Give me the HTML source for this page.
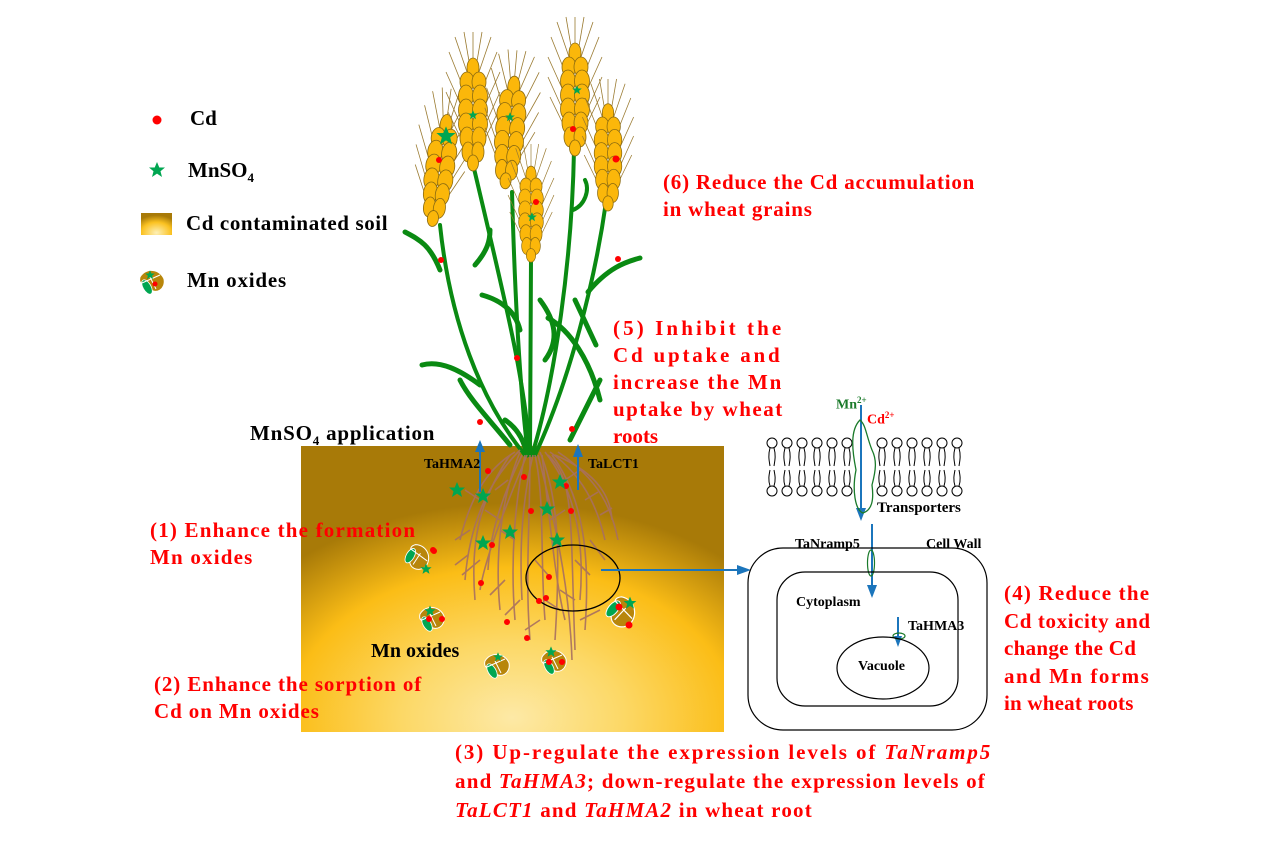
<!DOCTYPE html>
<html><head><meta charset="utf-8"><style>
html,body{margin:0;padding:0;background:#fff}
#c{position:relative;width:1274px;height:855px;overflow:hidden;font-family:"Liberation Serif",serif;font-weight:bold}
.t{position:absolute;white-space:nowrap}
.r{color:#ff0000;font-size:21px;line-height:27px}
.k{color:#000}
</style></head><body><div id="c">
<svg width="1274" height="855" style="position:absolute;left:0;top:0">
<defs>
<radialGradient id="soil" cx="0.5" cy="0.95" r="0.75">
<stop offset="0" stop-color="#fde9a6"/><stop offset="0.35" stop-color="#fcd866"/><stop offset="0.7" stop-color="#fbbd16"/><stop offset="1" stop-color="#a87a08"/>
</radialGradient>
<radialGradient id="lg" cx="0.5" cy="0.9" r="0.8">
<stop offset="0" stop-color="#fdf0b8"/><stop offset="0.6" stop-color="#fbc221"/><stop offset="1" stop-color="#a87a08"/>
</radialGradient>
<g id="ear">
<g stroke="#9a7a30" stroke-width="0.8">
<line x1="-6" y1="-40" x2="-18" y2="-75"/><line x1="6" y1="-40" x2="18" y2="-75"/>
<line x1="-8" y1="-20" x2="-24" y2="-60"/><line x1="8" y1="-20" x2="24" y2="-60"/>
<line x1="-9" y1="0" x2="-27" y2="-40"/><line x1="9" y1="0" x2="27" y2="-40"/>
<line x1="-9" y1="20" x2="-27" y2="-20"/><line x1="9" y1="20" x2="27" y2="-20"/>
<line x1="-8" y1="35" x2="-25" y2="0"/><line x1="8" y1="35" x2="25" y2="0"/>
<line x1="0" y1="-45" x2="0" y2="-80"/><line x1="-3" y1="-45" x2="-9" y2="-80"/><line x1="3" y1="-45" x2="9" y2="-80"/>
</g>
<g fill="#fbb70a" stroke="#8a6a10" stroke-width="0.8">
<ellipse cx="0" cy="-44" rx="6" ry="10"/>
<ellipse cx="-6" cy="-30" rx="7" ry="10"/><ellipse cx="6" cy="-30" rx="7" ry="10"/>
<ellipse cx="-7" cy="-16" rx="7.5" ry="11"/><ellipse cx="7" cy="-16" rx="7.5" ry="11"/>
<ellipse cx="-7" cy="-2" rx="7.5" ry="11"/><ellipse cx="7" cy="-2" rx="7.5" ry="11"/>
<ellipse cx="-7" cy="12" rx="7.5" ry="11"/><ellipse cx="7" cy="12" rx="7.5" ry="11"/>
<ellipse cx="-6" cy="26" rx="7" ry="11"/><ellipse cx="6" cy="26" rx="7" ry="11"/>
<ellipse cx="-5" cy="40" rx="6" ry="10"/><ellipse cx="5" cy="40" rx="6" ry="10"/>
<ellipse cx="0" cy="51" rx="5.5" ry="8"/>
</g>
</g>
<g id="star"><polygon points="0,-8 2.3,-2.5 8,-2.5 3.5,1.2 5,7 0,3.6 -5,7 -3.5,1.2 -8,-2.5 -2.3,-2.5" fill="#00a651"/></g>
<g id="mno">
<path d="M-12,-4 C-6,-14 8,-12 12,-2 C14,8 4,14 -2,8 C-8,2 -14,4 -12,-4Z" fill="#b8860b" stroke="#fff" stroke-width="1"/>
<ellipse cx="-5" cy="6" rx="4" ry="8" transform="rotate(-30 -5 6)" fill="#00a651" stroke="#fff" stroke-width="0.8"/>
<path d="M-10,2 L8,-6 M-2,-4 L4,8" stroke="#fff" stroke-width="1" fill="none"/>
</g>
<g id="lip"><circle cx="0" cy="443" r="5"/><circle cx="0" cy="491" r="5"/><path d="M-2,448 C-4,455 -3,460 -2,466 M2,448 C4,455 3,460 2,466 M-2,486 C-4,480 -3,475 -2,470 M2,486 C4,480 3,475 2,470" fill="none"/></g>
</defs>

<rect x="301" y="446" width="423" height="286" fill="url(#soil)"/>
<rect x="141" y="213" width="31" height="22" fill="url(#lg)"/>

<g fill="none" stroke="#0a8a12" stroke-linecap="round">
<path d="M530,455 C525,380 505,300 472,160" stroke-width="4"/>
<path d="M528,455 C520,390 515,300 512,192" stroke-width="4"/>
<path d="M530,455 L531,258" stroke-width="4"/>
<path d="M532,455 C555,380 572,260 574,150" stroke-width="4"/>
<path d="M535,455 C570,380 595,280 606,202" stroke-width="4"/>
<path d="M525,455 C480,400 450,320 440,225" stroke-width="4"/>
<path d="M405,232 C420,240 430,245 440,270" stroke-width="5"/>
<path d="M475,265 C488,250 490,240 490,230" stroke-width="5"/>
<path d="M482,295 C500,300 515,310 520,330" stroke-width="5"/>
<path d="M422,365 C440,360 460,370 480,385" stroke-width="5"/>
<path d="M540,300 C555,320 560,340 545,360" stroke-width="5"/>
<path d="M548,318 C570,330 590,360 600,400" stroke-width="5"/>
<path d="M588,292 C608,268 625,262 640,258" stroke-width="5"/>
<path d="M573,210 C585,205 590,190 585,180" stroke-width="4"/>
<path d="M460,380 C470,400 490,420 510,445" stroke-width="5"/>
<path d="M505,420 C520,430 525,445 527,455" stroke-width="5"/>
<path d="M570,440 C580,420 590,400 600,380" stroke-width="5"/>
<path d="M575,300 L596,345" stroke-width="5"/>
</g>
<use href="#ear" transform="translate(440,168) rotate(8)"/>
<use href="#ear" transform="translate(473,112)"/>
<use href="#ear" transform="translate(510,130) rotate(5)"/>
<use href="#ear" transform="translate(531,212) scale(0.85)"/>
<use href="#ear" transform="translate(575,97)"/>
<use href="#ear" transform="translate(608,155) scale(0.95)"/>

<g fill="none" stroke="#a87060" stroke-width="1.6" opacity="0.9">
<path d="M520,450 C490,480 470,520 465,580 M510,455 C480,500 470,540 475,600 M520,452 C500,500 495,560 500,610 M525,455 C515,500 510,560 515,620 M530,455 C530,520 525,580 530,640 M535,455 C545,500 540,560 545,620 M540,452 C560,500 560,560 555,640 M545,452 C575,490 585,540 580,600 M550,452 C590,480 600,520 605,540 M548,455 C575,480 570,520 575,650 M555,455 C590,470 610,490 612,520"/>
<path d="M515,452 C485,470 470,500 460,540 M522,455 C505,490 490,530 488,570 M533,455 C520,510 520,560 522,600 M542,455 C550,520 555,580 565,620 M552,455 C585,500 590,560 585,630 M558,452 C600,480 612,510 618,540 M527,455 C500,520 485,560 480,590 M538,455 C560,540 570,600 572,660"/>
<path d="M470,530 L455,540 M480,560 L462,575 M500,520 L485,510 M505,580 L490,595 M515,540 L500,530 M535,560 L548,575 M550,520 L565,510 M560,590 L575,600 M575,560 L590,575 M580,620 L600,610 M540,620 L525,630 M480,500 L465,490 M565,480 L580,470 M520,600 L505,615 M545,600 L560,610 M590,540 L605,560 M468,555 L455,565 M495,490 L508,480 M585,500 L598,492 M600,515 L612,508"/>
</g>
<ellipse cx="573" cy="578" rx="47" ry="33" fill="none" stroke="#000" stroke-width="1.3"/>

<g fill="#ff0000">
<circle cx="157" cy="120" r="4.5"/>
<circle cx="488" cy="471" r="3"/><circle cx="524" cy="477" r="3"/><circle cx="566" cy="486" r="3"/><circle cx="531" cy="511" r="3"/><circle cx="571" cy="511" r="3"/><circle cx="492" cy="545" r="3"/><circle cx="481" cy="583" r="3"/><circle cx="549" cy="577" r="3"/><circle cx="546" cy="598" r="3"/><circle cx="539" cy="601" r="3"/><circle cx="507" cy="622" r="3"/><circle cx="527" cy="638" r="3"/><circle cx="434" cy="551" r="3"/>
<circle cx="441" cy="260" r="3"/><circle cx="517" cy="358" r="3"/><circle cx="480" cy="422" r="3"/><circle cx="572" cy="429" r="3"/><circle cx="618" cy="259" r="3"/>
<circle cx="439" cy="160" r="3"/><circle cx="536" cy="202" r="3"/><circle cx="573" cy="129" r="3"/><circle cx="616" cy="159" r="3.5"/>
</g>
<g>
<use href="#star" transform="translate(157,170)"/>
<use href="#star" transform="translate(457,490)"/><use href="#star" transform="translate(483,496)"/><use href="#star" transform="translate(560,482)"/><use href="#star" transform="translate(547,509)"/><use href="#star" transform="translate(510,532)"/><use href="#star" transform="translate(483,543)"/><use href="#star" transform="translate(557,540)"/>
<use href="#star" transform="translate(446,136) scale(1.2)"/><use href="#star" transform="translate(473,115) scale(0.6)"/><use href="#star" transform="translate(510,117) scale(0.6)"/><use href="#star" transform="translate(577,90) scale(0.6)"/><use href="#star" transform="translate(532,217) scale(0.6)"/>
</g>
<use href="#mno" transform="translate(152,281)"/>
<use href="#mno" transform="translate(418,557) rotate(60)"/>
<use href="#mno" transform="translate(432,618)"/>
<use href="#mno" transform="translate(622,612) rotate(70) scale(1.2)"/>
<use href="#mno" transform="translate(497,665)"/>
<use href="#mno" transform="translate(554,661)"/>
<g fill="#ff0000"><circle cx="429" cy="619" r="3"/><circle cx="442" cy="619" r="3"/><circle cx="619" cy="607" r="3.5"/><circle cx="629" cy="625" r="3.5"/><circle cx="549" cy="662" r="3"/><circle cx="562" cy="662" r="3"/><circle cx="433" cy="550" r="3"/><circle cx="155" cy="284" r="2.5"/></g>
<use href="#star" transform="translate(426,569) scale(0.7)"/><use href="#star" transform="translate(430,611) scale(0.7)"/><use href="#star" transform="translate(630,603) scale(0.8)"/><use href="#star" transform="translate(498,657) scale(0.6)"/><use href="#star" transform="translate(551,652) scale(0.7)"/><use href="#star" transform="translate(150,275) scale(0.6)"/>

<g stroke="#1b75bc" stroke-width="2" fill="#1b75bc">
<line x1="480" y1="492" x2="480" y2="450"/><polygon points="475,452 485,452 480,440" stroke="none"/>
<line x1="578" y1="490" x2="578" y2="455"/><polygon points="573,457 583,457 578,444" stroke="none"/>
<line x1="601" y1="570" x2="738" y2="570"/><polygon points="737,565 737,575 751,570" stroke="none"/>
<line x1="861" y1="405" x2="861" y2="510"/><polygon points="856,508 866,508 861,521" stroke="none"/>
<line x1="872" y1="524" x2="872" y2="587"/><polygon points="867,585 877,585 872,598" stroke="none"/>
<line x1="898" y1="617" x2="898" y2="637"/><polygon points="894,636 902,636 898,647" stroke="none"/>
</g>

<g stroke="#000" stroke-width="1" fill="#fff">
<use href="#lip" x="772"/><use href="#lip" x="787"/><use href="#lip" x="802"/><use href="#lip" x="817"/><use href="#lip" x="832"/><use href="#lip" x="847"/>
<use href="#lip" x="882"/><use href="#lip" x="897"/><use href="#lip" x="912"/><use href="#lip" x="927"/><use href="#lip" x="942"/><use href="#lip" x="957"/>
</g>
<path d="M860,420 C850,430 852,450 856,470 C852,490 855,510 863,513 C872,510 874,500 872,485 C876,470 877,460 872,450 C866,435 866,425 860,420Z" fill="none" stroke="#1a7a2a" stroke-width="1.3"/>
<ellipse cx="871" cy="563" rx="3.5" ry="13" fill="none" stroke="#1a7a2a" stroke-width="1.2"/>
<ellipse cx="899" cy="636" rx="6" ry="3" fill="none" stroke="#1a7a2a" stroke-width="1.2"/>

<rect x="748" y="548" width="239" height="182" rx="35" fill="none" stroke="#000" stroke-width="1.2"/>
<rect x="777" y="572" width="181" height="134" rx="28" fill="none" stroke="#000" stroke-width="1.2"/>
<ellipse cx="883" cy="668" rx="46" ry="31" fill="none" stroke="#000" stroke-width="1.2"/>
</svg>

<div class="t k" style="left:190px;top:106px;font-size:21px">Cd</div>
<div class="t k" style="left:188px;top:158px;font-size:21px">MnSO<sub style="font-size:13px">4</sub></div>
<div class="t k" style="left:186px;top:211px;font-size:21px;letter-spacing:0.6px">Cd contaminated soil</div>
<div class="t k" style="left:187px;top:268px;font-size:21px;letter-spacing:0.8px">Mn oxides</div>
<div class="t k" style="left:250px;top:421px;font-size:21px;letter-spacing:0.8px">MnSO<sub style="font-size:13px">4</sub> application</div>
<div class="t k" style="left:424px;top:457px;font-size:14px">TaHMA2</div>
<div class="t k" style="left:588px;top:457px;font-size:14px">TaLCT1</div>
<div class="t k" style="left:371px;top:640px;font-size:20px">Mn oxides</div>
<div class="t" style="left:836px;top:395px;font-size:14px;color:#1a7a2a">Mn<sup style="font-size:9px">2+</sup></div>
<div class="t" style="left:867px;top:410px;font-size:14px;color:#ff0000">Cd<sup style="font-size:9px">2+</sup></div>
<div class="t k" style="left:877px;top:500px;font-size:15px">Transporters</div>
<div class="t k" style="left:795px;top:537px;font-size:14px">TaNramp5</div>
<div class="t k" style="left:926px;top:537px;font-size:14px">Cell Wall</div>
<div class="t k" style="left:796px;top:595px;font-size:14px">Cytoplasm</div>
<div class="t k" style="left:908px;top:619px;font-size:14px">TaHMA3</div>
<div class="t k" style="left:858px;top:659px;font-size:14px">Vacuole</div>

<div class="t r" style="left:663px;top:169px;letter-spacing:0.8px">(6) Reduce the Cd accumulation<br>in wheat grains</div>
<div class="t r" style="left:613px;top:315px;width:170px">
<div style="letter-spacing:3.1px">(5) Inhibit the</div>
<div style="letter-spacing:2.8px">Cd uptake and</div>
<div style="letter-spacing:1.8px">increase the Mn</div>
<div style="letter-spacing:1.5px">uptake by wheat</div>
<div>roots</div></div>
<div class="t r" style="left:150px;top:517px;letter-spacing:1.2px">(1) Enhance the formation<br>Mn oxides</div>
<div class="t r" style="left:154px;top:671px;letter-spacing:0.9px">(2) Enhance the sorption of<br>Cd on Mn oxides</div>
<div class="t r" style="left:455px;top:738px;line-height:29px">
<div style="letter-spacing:1.9px">(3) Up-regulate the expression levels of <i>TaNramp5</i></div>
<div style="letter-spacing:1.2px">and <i>TaHMA3</i>; down-regulate the expression levels of</div>
<div style="letter-spacing:1.2px"><i>TaLCT1</i> and <i>TaHMA2</i> in wheat root</div></div>
<div class="t r" style="left:1004px;top:580px;line-height:27.5px">
<div style="letter-spacing:1.2px">(4) Reduce the</div>
<div style="letter-spacing:0.6px">Cd toxicity and</div>
<div style="letter-spacing:0.3px">change the Cd</div>
<div style="letter-spacing:1.5px">and Mn forms</div>
<div style="letter-spacing:0.2px">in wheat roots</div></div>
</div></body></html>
